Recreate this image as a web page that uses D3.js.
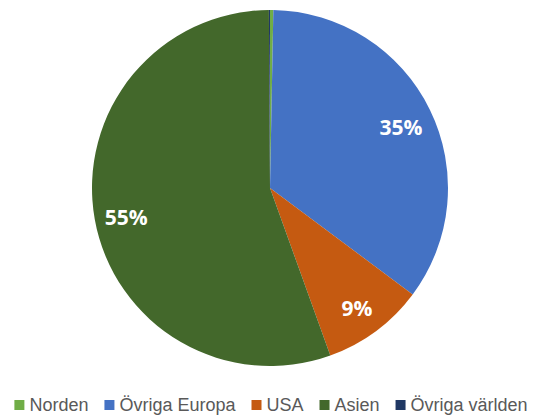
<!DOCTYPE html>
<html>
<head>
<meta charset="utf-8">
<script src="https://cdn.jsdelivr.net/npm/d3@7"></script>
<style>
  html, body { margin: 0; padding: 0; background: #fff; }
  svg { display: block; }
</style>
</head>
<body>
<svg id="chart" width="537" height="418"></svg>
<script>
const categories = ["Norden", "Övriga Europa", "USA", "Asien", "Övriga världen"];
const values = [0.3, 34.9, 9.3, 55.4, 0.1];
const colors = ["#70AD47", "#4472C4", "#C55A11", "#43682B", "#203864"];

const svg = d3.select("#chart");
const cx = 270, cy = 188, r = 178;

const data = categories.map((c, i) => ({ name: c, value: values[i], color: colors[i] }));
const total = d3.sum(values);

const pie = d3.pie().value(d => d.value).sort(null);
const arcs = pie(data);
const arc = d3.arc().innerRadius(0).outerRadius(r);
const labelArc = d3.arc().innerRadius(r * 0.82).outerRadius(r * 0.82);

const g = svg.append("g").attr("transform", `translate(${cx},${cy})`);

g.selectAll("path.slice")
  .data(arcs)
  .join("path")
  .attr("class", "slice")
  .attr("d", arc)
  .attr("fill", d => d.data.color);

g.selectAll("text.lbl")
  .data(arcs.filter(d => d.data.value / total >= 0.02))
  .join("text")
  .attr("class", "lbl")
  .attr("transform", d => {
    const [x, y] = labelArc.centroid(d);
    return `translate(${x},${y + 3})`;
  })
  .attr("text-anchor", "middle")
  .attr("dominant-baseline", "central")
  .attr("fill", "#ffffff")
  .attr("font-family", "'Open Sans', 'DejaVu Sans', sans-serif")
  .attr("font-weight", "bold")
  .attr("font-size", 21)
  .text(d => Math.round(d.data.value / total * 100) + "%");

// Legend
const legendFont = "'Liberation Sans', Arial, sans-serif";
const legend = svg.append("g");
const items = [];
const gap = 16;
let x = 0;
data.forEach(d => {
  const item = legend.append("g");
  item.append("rect")
    .attr("x", 0).attr("y", 400)
    .attr("width", 10).attr("height", 10)
    .attr("fill", d.color);
  const t = item.append("text")
    .attr("x", 15).attr("y", 411)
    .attr("font-family", legendFont)
    .attr("font-size", 18)
    .attr("fill", "#595959")
    .text(d.name);
  const w = t.node().getComputedTextLength();
  items.push({ item, x });
  x += 15 + w + gap;
});
const totalW = x - gap;
const startX = 271 - totalW / 2;
items.forEach(o => o.item.attr("transform", `translate(${startX + o.x},0)`));
</script>
</body>
</html>
